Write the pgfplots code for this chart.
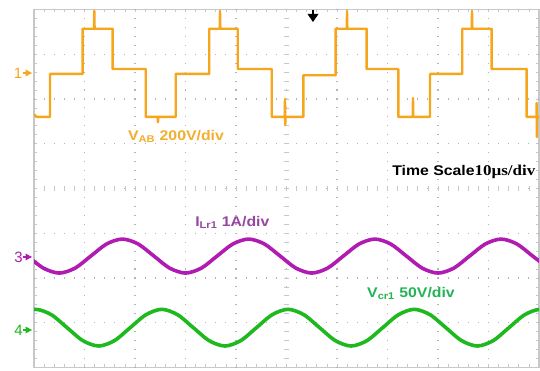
\documentclass[border=0pt]{standalone}
\usepackage{fontspec}
\setmainfont{Liberation Sans}
\newfontfamily\serifb{Liberation Serif}
\usepackage{pgfplots}
\pgfplotsset{compat=1.18}
\definecolor{orng}{RGB}{247,166,28}
\definecolor{orngtxt}{RGB}{242,175,45}
\definecolor{mag}{RGB}{176,28,178}
\definecolor{magtxt}{RGB}{150,70,160}
\definecolor{grn}{RGB}{30,185,30}
\definecolor{grntxt}{RGB}{35,180,85}
\definecolor{gridc}{RGB}{180,180,180}
\definecolor{framec}{RGB}{200,200,200}
\begin{document}
\begin{tikzpicture}
\useasboundingbox (0pt,0pt) rectangle (540pt,371pt);
\fill[white] (0pt,0pt) rectangle (540pt,371pt);
\begin{axis}[at={(34pt,3.5pt)}, anchor=south west, scale only axis,
  width=505pt, height=358pt, xmin=0, xmax=10, ymin=0, ymax=8,
  axis line style={framec, line width=1.2pt},
  xtick={0,...,10}, ytick={0,...,8}, minor tick num=4,
  tick align=inside, major tick length=3pt, minor tick length=3pt,
  tick style={framec, line width=0.8pt},
  xticklabels={}, yticklabels={}]
% dotted grid
\pgfplotsinvokeforeach{1,...,9}{\draw[gridc, line width=1.1pt, dash pattern=on 1.1pt off 7.85pt, dash phase=0.55pt] (axis cs:#1,0) -- (axis cs:#1,8);}
\pgfplotsinvokeforeach{1,...,7}{\draw[gridc, line width=1.1pt, dash pattern=on 1.1pt off 9pt, dash phase=0.55pt] (axis cs:0,#1) -- (axis cs:10,#1);}
% centre-line ticks
\draw[framec, line width=5pt, dash pattern=on 0.8pt off 9.3pt, dash phase=0.4pt] (axis cs:0,4) -- (axis cs:10,4);
\draw[framec, line width=5pt, dash pattern=on 0.8pt off 8.15pt, dash phase=0.4pt] (axis cs:5,0) -- (axis cs:5,8);
% V_AB
\addplot[orng, line width=2.4pt, line join=round] coordinates {
(0,5.66) (0.05,5.60) (0.317,5.60) (0.317,6.56) (0.964,6.56) (0.964,7.57)
(1.19,7.57) (1.194,7.97) (1.20,7.57) (1.558,7.57) (1.558,6.67) (2.212,6.67)
(2.212,5.60) (2.45,5.60) (2.455,5.48) (2.46,5.60) (2.806,5.60) (2.806,6.56)
(3.471,6.56) (3.471,7.57) (3.68,7.57) (3.683,7.97) (3.69,7.57) (4.034,7.57)
(4.034,6.67) (4.707,6.67) (4.707,5.60) (4.965,5.60) (4.97,6.00) (4.975,5.42)
(4.98,5.60) (5.333,5.60) (5.333,6.53) (5.974,6.53) (5.974,7.57) (6.195,7.57)
(6.198,7.97) (6.205,7.57) (6.588,7.57) (6.588,6.67) (7.214,6.67) (7.214,5.60)
(7.50,5.60) (7.505,6.02) (7.51,5.60) (7.842,5.60) (7.842,6.56) (8.481,6.56)
(8.481,7.57) (8.67,7.57) (8.673,7.97) (8.68,7.57) (9.063,7.57) (9.063,6.67)
(9.756,6.67) (9.756,5.60) (9.95,5.60) (9.954,5.91) (9.958,5.15) (9.962,5.60) (10,5.60)};
% I_Lr1
\addplot[mag, line width=3.6pt, smooth] coordinates {
(-0.125,2.49) (0.1875,2.22) (0.5,2.11) (0.8125,2.22) (1.125,2.49) (1.4375,2.76)
(1.75,2.87) (2.0625,2.76) (2.375,2.49) (2.6875,2.22) (3.0,2.11) (3.3125,2.22)
(3.625,2.49) (3.9375,2.76) (4.25,2.87) (4.5625,2.76) (4.875,2.49) (5.1875,2.22)
(5.5,2.11) (5.8125,2.22) (6.125,2.49) (6.4375,2.76) (6.75,2.87) (7.0625,2.76)
(7.375,2.49) (7.6875,2.22) (8.0,2.11) (8.3125,2.22) (8.625,2.49) (8.9375,2.76)
(9.25,2.87) (9.5625,2.76) (9.875,2.49) (10.1875,2.22)};
% V_cr1
\addplot[grn, line width=3.6pt, smooth] coordinates {
(-0.2825,1.18) (0.03,1.30) (0.3425,1.18) (0.655,0.89) (0.9675,0.60) (1.28,0.48)
(1.5925,0.60) (1.905,0.89) (2.2175,1.18) (2.53,1.30) (2.8425,1.18) (3.155,0.89)
(3.4675,0.60) (3.78,0.48) (4.0925,0.60) (4.405,0.89) (4.7175,1.18) (5.03,1.30)
(5.3425,1.18) (5.655,0.89) (5.9675,0.60) (6.28,0.48) (6.5925,0.60) (6.905,0.89)
(7.2175,1.18) (7.53,1.30) (7.8425,1.18) (8.155,0.89) (8.4675,0.60) (8.78,0.48)
(9.0925,0.60) (9.405,0.89) (9.7175,1.18) (10.03,1.30) (10.3425,1.18)};
% labels
\node[anchor=base west, text=orngtxt, font=\bfseries\fontsize{14}{16}\selectfont, xscale=1.13, inner sep=0pt] at (axis cs:1.86,5.07) {V\textsubscript{AB} 200V/div};
\node[anchor=base west, text=black, font=\bfseries\fontsize{14}{16}\selectfont, xscale=1.13, inner sep=0pt] at (axis cs:7.09,4.30) {Time Scale{\serifb\fontsize{15}{17}\selectfont 10µs/div}};
\node[anchor=base west, text=magtxt, font=\bfseries\fontsize{14}{16}\selectfont, xscale=1.13, inner sep=0pt] at (axis cs:3.19,3.146) {I\textsubscript{Lr1} 1A/div};
\node[anchor=base west, text=grntxt, font=\bfseries\fontsize{14}{16}\selectfont, xscale=1.13, inner sep=0pt] at (axis cs:6.594,1.569) {V\textsubscript{cr1} 50V/div};
\end{axis}
% channel markers
\node[text=orng, font=\fontsize{15}{17}\selectfont, inner sep=0pt] at (18pt,298pt) {1};
\fill[orng] (25.5pt,301.5pt) -- (32pt,298pt) -- (25.5pt,294.5pt) -- cycle;
\draw[orng, line width=1.2pt] (22.5pt,298pt) -- (27pt,298pt);
\node[text=mag, font=\fontsize{15}{17}\selectfont, inner sep=0pt] at (18.5pt,114pt) {3};
\fill[mag] (25.5pt,117.5pt) -- (32pt,114pt) -- (25.5pt,110.5pt) -- cycle;
\draw[mag, line width=1.2pt] (22.5pt,114pt) -- (27pt,114pt);
\node[text=grn, font=\fontsize{15}{17}\selectfont, inner sep=0pt] at (18.5pt,41pt) {4};
\fill[grn] (25.5pt,44.5pt) -- (32pt,41pt) -- (25.5pt,37.5pt) -- cycle;
\draw[grn, line width=1.2pt] (22.5pt,41pt) -- (27pt,41pt);
% trigger arrow
\draw[black, line width=2pt] (313pt,361pt) -- (313pt,355pt);
\fill[black] (307.5pt,357pt) -- (318.5pt,357pt) -- (313pt,349pt) -- cycle;
\end{tikzpicture}
\end{document}
